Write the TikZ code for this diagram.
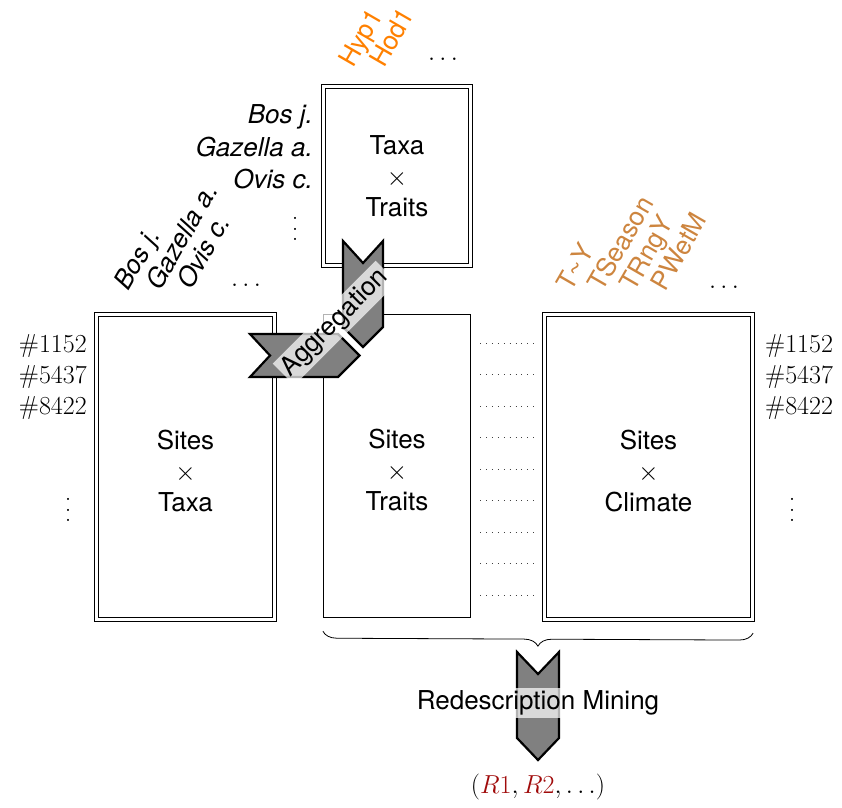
\RequirePackage{fix-cm}
\documentclass[tikz,border=0pt]{standalone}
\usepackage{fontspec}
\setsansfont{TeX Gyre Heros}
\usetikzlibrary{decorations.pathreplacing}
\definecolor{hypc}{RGB}{255,128,0}
\definecolor{climc}{RGB}{205,133,63}
\definecolor{resc}{RGB}{160,10,10}
\newcommand{\myvdots}{\vbox{\baselineskip=10.5pt\lineskiplimit=0pt\hbox{.}\hbox{.}\hbox{.}}}
\begin{document}
\begin{tikzpicture}[x=1pt,y=-1pt,
  base/.style={font=\sffamily\fontsize{26}{31}\selectfont, inner sep=0pt},
  dbox/.style={base, draw, double, double distance=2.5pt, line width=1.2pt, align=center},
  sbox/.style={base, draw, line width=1.3pt, align=center},
  btxt/.style={base, align=center},
  hdr/.style={base, rotate=60, anchor=base west},
  spec/.style={font=\sffamily\itshape\fontsize{26}{31}\selectfont, inner sep=0pt},
  shdr/.style={spec, rotate=60, anchor=base west},
  num/.style={font=\rmfamily\fontsize{26}{31}\selectfont, inner sep=0pt},
  chev/.style={draw=black, line width=2.2pt, fill=black!50, line join=miter},
  lab/.style={base, fill=white, fill opacity=0.7, text opacity=1, inner sep=3pt},
  dotln/.style={line width=0.9pt, dash pattern=on 0.9pt off 5pt, black!75},
]
\useasboundingbox (0,0) rectangle (842,807);

% boxes
\node[dbox, minimum width=147pt, minimum height=179pt] (TT) at (397,176) {Taxa\\$\times$\\Traits};
\node[dbox, minimum width=178pt, minimum height=305pt] (ST) at (185.5,467) {};
\node[sbox, minimum width=147pt, minimum height=303pt] (STr) at (397,466) {};
\node[dbox, minimum width=208pt, minimum height=305pt] (SC) at (648.5,467) {};
\node[btxt] (STt) at ([yshift=-4pt]ST.center) {Sites\\$\times$\\Taxa};
\node[btxt] (STrt) at ([yshift=-4pt]STr.center) {Sites\\$\times$\\Traits};
\node[btxt] (SCt) at ([yshift=-4pt]SC.center) {Sites\\$\times$\\Climate};

% dotted rows between Sites x Traits and Sites x Climate
\foreach \yy in {343,374.5,...,596}
  \draw[dotln] ([xshift=9pt]STr.east |- 0,\yy) -- ([xshift=-9pt]SC.west |- 0,\yy);

% row labels
\node[num, anchor=base east] (l1) at (87,352) {\#1152};
\node[num, anchor=base east] (l2) at (87,383) {\#5437};
\node[num, anchor=base east] (l3) at (87,414) {\#8422};
\node[num] (lv) at (68,510) {\myvdots};
\node[num, anchor=base west] (r1) at (765,352) {\#1152};
\node[num, anchor=base west] (r2) at (765,383) {\#5437};
\node[num, anchor=base west] (r3) at (765,414) {\#8422};
\node[num] (rv) at (792,510) {\myvdots};

% species rows of the top box
\node[spec, anchor=base east] (s1) at (313,123) {Bos j.};
\node[spec, anchor=base east] (s2) at (313,156) {Gazella a.};
\node[spec, anchor=base east] (s3) at (313,188) {Ovis c.};
\node[num] (sv) at (295,229) {\myvdots};

% column headers
\node[shdr] (c1) at (128,292) {Bos j.};
\node[shdr] (c2) at (160,292) {Gazella a.};
\node[shdr] (c3) at (191,291) {Ovis c.};
\node[num, anchor=base] (cd) at (246,286) {$\dots$};

\node[hdr, text=hypc] (h1) at (353,69) {Hyp1};
\node[hdr, text=hypc] (h2) at (384,69) {Hod1};
\node[num, anchor=base] (hd) at (443,60) {$\dots$};

\node[hdr, text=climc] (k1) at (571,293) {T\textasciitilde{}Y};
\node[hdr, text=climc] (k2) at (602.5,293) {TSeason};
\node[hdr, text=climc] (k3) at (634,293) {TRngY};
\node[hdr, text=climc] (k4) at (665.5,293) {PWetM};
\node[num, anchor=base] (kd) at (724,288) {$\dots$};

% aggregation chevrons
\draw[chev] (343,241) -- (363,263) -- (383,241) -- (383,327) -- (363,347) -- (343,327) -- cycle;
\draw[chev] (250,334) -- (270,355.5) -- (250,377) -- (338,377) -- (359.5,355.5) -- (338,334) -- cycle;
\node[lab, rotate=45] (agg) at (335,323) {Aggregation};

% brace and redescription mining
\draw[decorate, decoration={brace, amplitude=14pt}, line width=0.8pt]
  ([yshift=-13pt]SC.south east) -- ([yshift=-13pt]STr.south west);
\draw[chev] (517,652) -- (538,674) -- (559,652) -- (559,738) -- (538,760) -- (517,738) -- cycle;
\node[lab] (rm) at (538,703) {Redescription Mining};
\node[num] (res) at (538,787) {$(\textcolor{resc}{R1}, \textcolor{resc}{R2}, \dots)$};
\end{tikzpicture}
\end{document}
